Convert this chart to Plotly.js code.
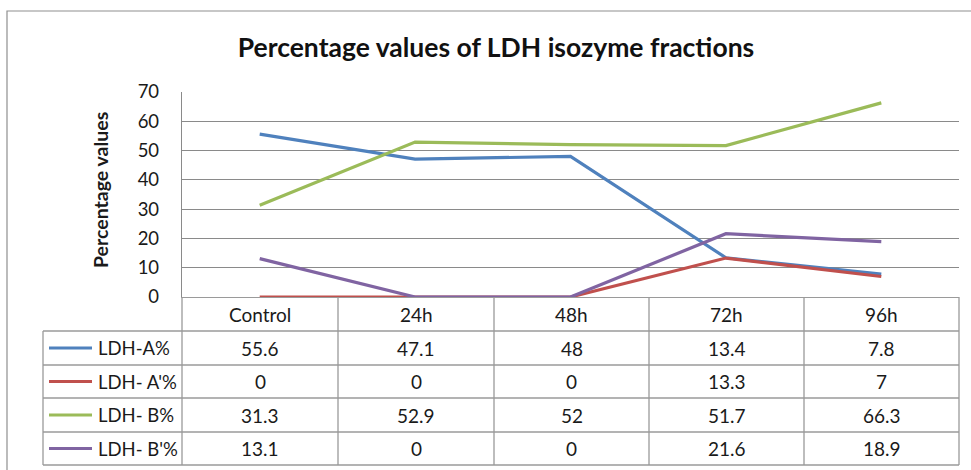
<!DOCTYPE html>
<html>
<head>
<meta charset="utf-8">
<script src="https://cdn.plot.ly/plotly-3.0.1.min.js"></script>
<style>html,body{margin:0;padding:0;background:#fff;}#chart{width:971px;height:470px;}</style>
</head>
<body>
<div id="chart"></div>
<script>
const categories = ["Control", "24h", "48h", "72h", "96h"];
const seriesNames = ["LDH-A%", "LDH- A'%", "LDH- B%", "LDH- B'%"];
const ldhA = [55.6, 47.1, 48, 13.4, 7.8];
const ldhA2 = [0, 0, 0, 13.3, 7];
const ldhB = [31.3, 52.9, 52, 51.7, 66.3];
const ldhB2 = [13.1, 0, 0, 21.6, 18.9];
const seriesValues = [ldhA, ldhA2, ldhB, ldhB2];
const colors = ["#4F81BD", "#C0504D", "#9BBB59", "#8064A2"];

const W = 971, H = 470;
const L = 182, R = 12, T = 92, B = 173;
const PW = W - L - R, PH = H - T - B;
const px = x => (x - L) / PW;
const py = y => (H - B - y) / PH;

const FONT = "Lato, 'Open Sans', sans-serif";
const gridC = "#8a8a8a";
const tableC = "#9a9a9a";
const TXT = 18.5;

const traces = seriesValues.map((vals, i) => ({
  type: "scatter", mode: "lines",
  x: categories, y: vals, name: seriesNames[i],
  line: {color: colors[i], width: 3.2},
  hoverinfo: "skip"
}));

const shapes = [];
const annotations = [];

// outer chart border
shapes.push({type: "rect", xref: "paper", yref: "paper", x0: px(7), x1: px(990), y0: py(490), y1: py(11),
  line: {color: "#8f8f8f", width: 1.2}, fillcolor: "rgba(0,0,0,0)"});

// table geometry
const colEdges = [182, 338, 494, 649, 804, 959];
const rowEdges = [297, 331, 365, 398, 432, 465];
const tableLeft = 43;

function hline(y, x0, x1) {
  shapes.push({type: "line", xref: "paper", yref: "paper", x0: px(x0), x1: px(x1), y0: py(y), y1: py(y), line: {color: tableC, width: 1.3}});
}
function vline(x, y0, y1) {
  shapes.push({type: "line", xref: "paper", yref: "paper", x0: px(x), x1: px(x), y0: py(y0), y1: py(y1), line: {color: tableC, width: 1.3}});
}
colEdges.forEach(x => vline(x, rowEdges[0], rowEdges[rowEdges.length - 1]));
vline(tableLeft, rowEdges[1], rowEdges[rowEdges.length - 1]);
for (let r = 1; r < rowEdges.length; r++) hline(rowEdges[r], tableLeft, colEdges[colEdges.length - 1]);

// header labels
categories.forEach((c, j) => {
  annotations.push({xref: "paper", yref: "paper", x: px((colEdges[j] + colEdges[j + 1]) / 2), y: py((rowEdges[0] + rowEdges[1]) / 2),
    text: c, showarrow: false, xanchor: "center", yanchor: "middle", font: {family: FONT, size: TXT + 0.5, color: "#1a1a1a"}});
});
// data rows
seriesValues.forEach((vals, i) => {
  const yc = (rowEdges[i + 1] + rowEdges[i + 2]) / 2;
  shapes.push({type: "line", xref: "paper", yref: "paper", x0: px(49), x1: px(92), y0: py(yc), y1: py(yc), line: {color: colors[i], width: 3.2}});
  annotations.push({xref: "paper", yref: "paper", x: px(96), y: py(yc), text: seriesNames[i], showarrow: false,
    xanchor: "left", yanchor: "middle", font: {family: FONT, size: TXT, color: "#1a1a1a"}});
  vals.forEach((v, j) => {
    annotations.push({xref: "paper", yref: "paper", x: px((colEdges[j] + colEdges[j + 1]) / 2), y: py(yc),
      text: String(v), showarrow: false, xanchor: "center", yanchor: "middle", font: {family: FONT, size: TXT + 0.5, color: "#1a1a1a"}});
  });
});

// y axis title
annotations.push({xref: "paper", yref: "paper", x: px(100), y: py(190), text: "<b>Percentage values</b>", textangle: -90,
  showarrow: false, xanchor: "center", yanchor: "middle", font: {family: FONT, size: 19.5, color: "#1a1a1a"}});

const layout = {
  width: W, height: H,
  margin: {l: L, r: R, t: T, b: B, pad: 0},
  paper_bgcolor: "#ffffff", plot_bgcolor: "#ffffff",
  showlegend: false,
  title: {text: "<b>Percentage values of LDH isozyme fractions</b>", x: 496 / W, xanchor: "center", y: 1 - 48 / H, yanchor: "middle",
    font: {family: FONT, size: 26.5, color: "#111"}},
  xaxis: {type: "category", range: [-0.5, 4.5], showticklabels: false, ticks: "", showgrid: false, zeroline: false,
    showline: true, linecolor: tableC, linewidth: 1.3, fixedrange: true},
  yaxis: {range: [0, 70], dtick: 10, tick0: 0, showgrid: true, gridcolor: gridC, gridwidth: 1.2, zeroline: false,
    showline: true, linecolor: gridC, linewidth: 1.2, ticks: "outside", ticklen: 18, tickcolor: "rgba(0,0,0,0)",
    tickfont: {family: FONT, size: 18.5, color: "#1a1a1a"}, fixedrange: true},
  shapes: shapes,
  annotations: annotations
};

Plotly.newPlot("chart", traces, layout, {displayModeBar: false, staticPlot: true});
</script>
</body>
</html>
